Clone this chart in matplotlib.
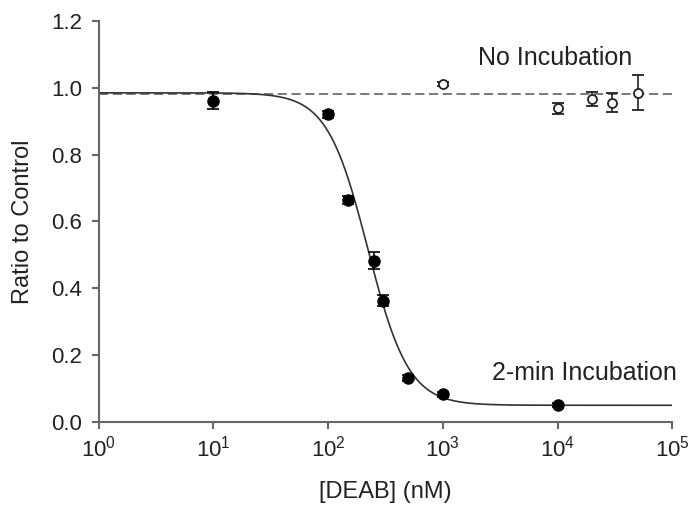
import numpy as np
import matplotlib
matplotlib.use("Agg")
import matplotlib.pyplot as plt

plt.rcParams['font.family'] = ['Liberation Sans', 'DejaVu Sans']
plt.rcParams['mathtext.fontset'] = 'custom'
plt.rcParams['mathtext.rm'] = 'Liberation Sans'

# 2-min incubation (filled circles)
deab_2min = [10, 100, 150, 250, 300, 500, 1000, 10000]
ratio_2min = [0.962, 0.921, 0.663, 0.483, 0.363, 0.132, 0.083, 0.052]
err_2min = [0.026, 0.010, 0.012, 0.026, 0.016, 0.008, 0.008, 0.006]

# no incubation (open circles)
deab_none = [1000, 10000, 20000, 30000, 50000]
ratio_none = [1.012, 0.939, 0.967, 0.956, 0.986]
err_none = [0.006, 0.016, 0.020, 0.029, 0.052]

# fit parameters (4-parameter logistic) and no-incubation mean
fit_top, fit_bottom, fit_ic50, fit_hill = 0.985, 0.05, 222.0, 2.45
no_inc_mean = 0.982

fig = plt.figure(figsize=(6.89, 5.05), dpi=100)
ax = fig.add_axes([0.1433, 0.1644, 0.8325, 0.7940])

xfit = np.logspace(0, 5, 400)
yfit = fit_bottom + (fit_top - fit_bottom) / (1 + (xfit / fit_ic50) ** fit_hill)
ax.plot(xfit, yfit, color='#333333', lw=1.2, zorder=2)
ax.plot([1, 1e5], [no_inc_mean, no_inc_mean], color='#555555', lw=1.1,
        dashes=(6, 3), zorder=1)

ax.errorbar(deab_2min, ratio_2min, yerr=err_2min, fmt='o', color='black',
            ms=8, elinewidth=1.2, capsize=4.5, capthick=1.2, zorder=3)
ax.errorbar(deab_none, ratio_none, yerr=err_none, fmt='o', color='#222222',
            mfc='white', mec='#222222', mew=1.3, ms=6.5,
            elinewidth=1.2, capsize=4.5, capthick=1.2, zorder=3)

ax.set_xscale('log')
ax.set_xlim(1, 1e5)
ax.set_ylim(0, 1.2)
ax.set_xticks([1, 10, 100, 1000, 1e4, 1e5])
ax.set_yticks([0.0, 0.2, 0.4, 0.6, 0.8, 1.0, 1.2])
ax.set_yticklabels(['0.0', '0.2', '0.4', '0.6', '0.8', '1.0', '1.2'])
ax.minorticks_off()

for s in ['top', 'right']:
    ax.spines[s].set_visible(False)
for s in ['left', 'bottom']:
    ax.spines[s].set_color('#666666')
    ax.spines[s].set_linewidth(1.5)
ax.tick_params(direction='out', length=5, width=1.5, color='#666666',
               labelsize=16, labelcolor='#222222', pad=5)
ax.tick_params(axis='y', pad=7)

ax.set_xlabel('[DEAB] (nM)', fontsize=17, color='#222222', labelpad=14)
ax.set_ylabel('Ratio to Control', fontsize=17, color='#222222', labelpad=12)

ax.text(9.5e3, 1.09, 'No Incubation', fontsize=18, color='#222222',
        ha='center', va='center')
ax.text(1.7e4, 0.147, '2-min Incubation', fontsize=18, color='#222222',
        ha='center', va='center')

fig.savefig('out.png', dpi=100)
